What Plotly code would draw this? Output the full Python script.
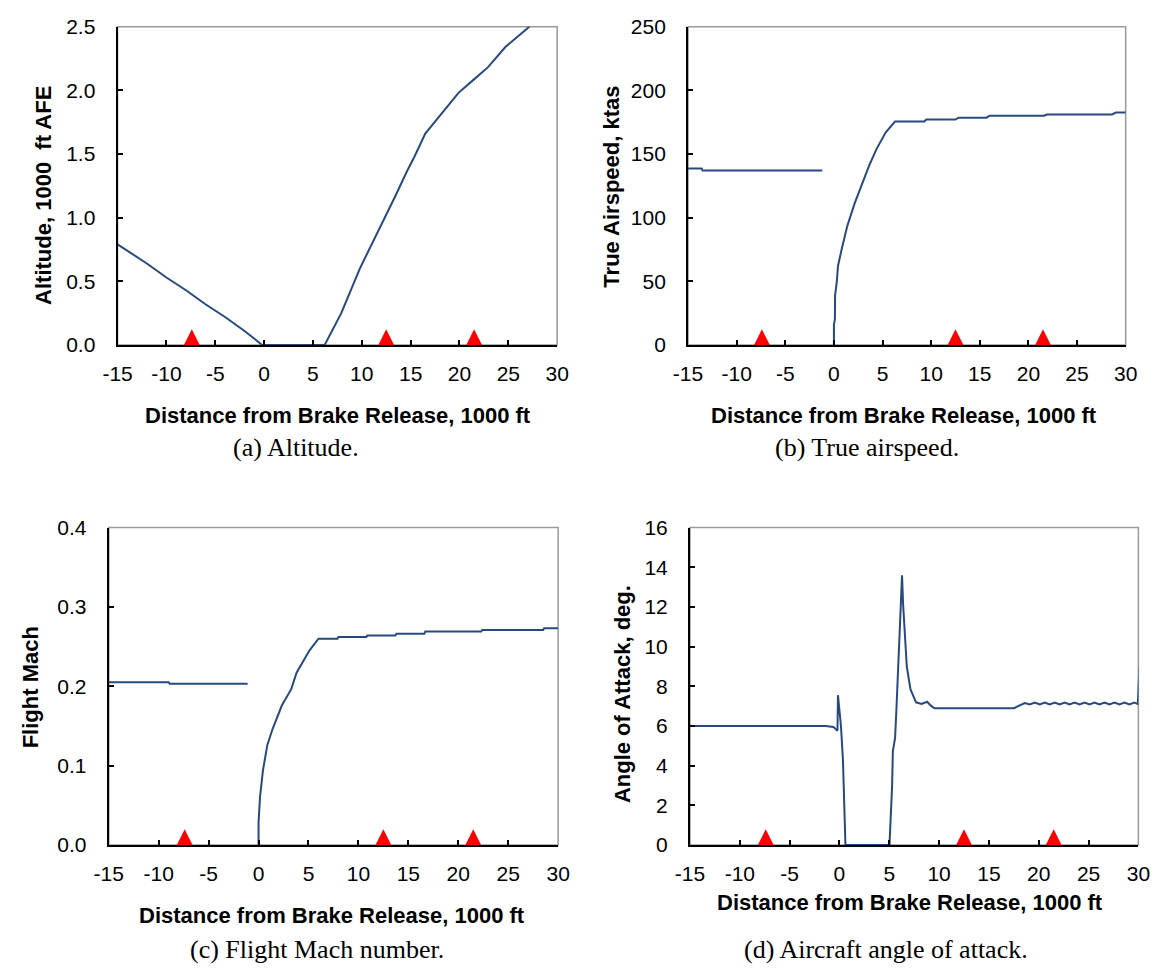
import plotly.graph_objects as go

W, H = 1166, 976

# ---------------- data ----------------
x_tickvals = [-15, -10, -5, 0, 5, 10, 15, 20, 25, 30]
x_ticktext = ["-15", "-10", "-5", "0", "5", "10", "15", "20", "25", "30"]

event_x = [-7.4, 12.5, 21.5]
event_y = [0, 0, 0]

# (a) Altitude, 1000 ft AFE
alt_x = [-15, -14, -12, -10, -8, -6, -4, -2, -0.2, 6.2, 7.9, 9.8, 11.6, 12.4, 13.5,
         14.6, 15.4, 16.5, 18.0, 19.9, 21.4, 22.9, 24.7, 27.0, 28.0]
alt_y = [0.79, 0.74, 0.64, 0.53, 0.43, 0.32, 0.22, 0.11, 0.0, 0.0, 0.25, 0.60, 0.88, 1.00, 1.18,
         1.36, 1.48, 1.66, 1.80, 1.98, 2.08, 2.18, 2.34, 2.49, 2.57]
alt_yticks = [0, 0.5, 1.0, 1.5, 2.0, 2.5]
alt_yticktext = ["0.0", "0.5", "1.0", "1.5", "2.0", "2.5"]

# (b) True airspeed, ktas
tas_x = [-15, -13.6, -13.5, -1.2, None,
         0.0, 0.0, 0.1, 0.12, 0.3, 0.42, 0.79, 1.36, 2.12, 2.88, 3.63, 4.39, 5.33, 6.28,
         9.3, 9.5, 12.5, 12.8, 15.7, 16.0, 21.6, 21.9, 28.6, 29.0, 30.0]
tas_y = [138.5, 138.5, 137, 137, None,
         0, 16, 20, 39, 50, 62, 75, 93, 111, 126, 141, 154, 167, 175.5,
         175.5, 177, 177, 178.5, 178.5, 180, 180, 181, 181, 182.5, 182.5]
tas_yticks = [0, 50, 100, 150, 200, 250]
tas_yticktext = ["0", "50", "100", "150", "200", "250"]

# (c) Flight Mach
mach_x = [-15, -9.0, -8.9, -1.1, None,
          0.0, 0.0, 0.15, 0.44, 0.88, 1.43, 2.34, 3.26, 3.81, 5.09, 6.0,
          7.9, 8.0, 10.8, 10.9, 13.7, 13.8, 16.6, 16.7, 22.3, 22.4, 28.5, 28.6, 30.0]
mach_y = [0.205, 0.205, 0.203, 0.203, None,
          0.0, 0.028, 0.061, 0.094, 0.126, 0.147, 0.176, 0.196, 0.217, 0.245, 0.260,
          0.260, 0.262, 0.262, 0.264, 0.264, 0.266, 0.266, 0.269, 0.269, 0.271, 0.271, 0.273, 0.273]
mach_yticks = [0, 0.1, 0.2, 0.3, 0.4]
mach_yticktext = ["0.0", "0.1", "0.2", "0.3", "0.4"]

# (d) Angle of attack, deg
aoa_x = [-15, -1.4, -0.6, -0.2, -0.15, 0.0, 0.15, 0.35, 0.5, 0.6,
         5.02, 5.13, 5.28, 5.36, 5.58, 5.72, 5.87, 6.02, 6.17, 6.28, 6.39, 6.58, 6.76,
         7.13, 7.69, 8.24, 8.8, 9.17, 9.54, 17.5, 18.0, 18.6,
         19.1, 19.6, 20.1, 20.6, 21.1, 21.6, 22.1, 22.6, 23.1, 23.6, 24.1, 24.6,
         25.1, 25.6, 26.1, 26.6, 27.1, 27.6, 28.1, 28.6, 29.1, 29.6, 29.95, 30.1]
aoa_y = [6.0, 6.0, 5.95, 5.75, 7.55, 6.9, 6.0, 4.3, 2.0, 0.0,
         0.0, 1.12, 2.92, 4.73, 5.38, 6.86, 8.5, 10.14, 11.78, 13.59, 12.1, 10.63, 8.99,
         7.84, 7.19, 7.11, 7.22, 7.02, 6.89, 6.89, 7.0, 7.15,
         7.08, 7.18, 7.08, 7.18, 7.08, 7.18, 7.08, 7.18, 7.08, 7.18, 7.08, 7.18,
         7.08, 7.18, 7.08, 7.18, 7.08, 7.18, 7.08, 7.18, 7.08, 7.18, 7.1, 9.0]
aoa_yticks = [0, 2, 4, 6, 8, 10, 12, 14, 16]
aoa_yticktext = ["0", "2", "4", "6", "8", "10", "12", "14", "16"]

x_title = "Distance from Brake Release, 1000 ft"

# ---------------- layout (pixel boxes) ----------------
panels = [
    dict(x=alt_x, y=alt_y, yr=[0, 2.5], yt=alt_yticks, ytt=alt_yticktext,
         box=(105, 555, 15, 341), ytitle="Altitude, 1000\u00a0 ft AFE", ytpos=(29, 188),
         xtpos=(331, 413), cap="(a) Altitude.", cappos=(288, 446)),
    dict(x=tas_x, y=tas_y, yr=[0, 250], yt=tas_yticks, ytt=tas_yticktext,
         box=(689, 1137, 15, 341), ytitle="True Airspeed, ktas", ytpos=(611, 179),
         xtpos=(910, 413), cap="(b) True airspeed.", cappos=(872, 446)),
    dict(x=mach_x, y=mach_y, yr=[0, 0.4], yt=mach_yticks, ytt=mach_yticktext,
         box=(96, 556, 528, 853), ytitle="Flight Mach", ytpos=(16, 692),
         xtpos=(325, 925), cap="(c) Flight Mach number.", cappos=(309, 960)),
    dict(x=aoa_x, y=aoa_y, yr=[0, 16], yt=aoa_yticks, ytt=aoa_yticktext,
         box=(691, 1150, 528, 853), ytitle="Angle of Attack, deg.", ytpos=(622, 699),
         xtpos=(916, 912), cap="(d) Aircraft angle of attack.", cappos=(892, 960)),
]

LINE_COLOR = "#264a80"
TICK_FONT = dict(family="Liberation Sans, Arial, sans-serif", size=21, color="#000000")
TITLE_FONT = dict(family="Liberation Sans, Arial, sans-serif", size=22, color="#000000")
CAP_FONT = dict(family="Liberation Serif, Times New Roman, serif", size=26, color="#000000")
TIP_PX = 16

fig = go.Figure()
layout = dict(width=W, height=H, margin=dict(l=0, r=0, t=0, b=0),
              paper_bgcolor="white", plot_bgcolor="white", showlegend=False,
              shapes=[], annotations=[])

for i, p in enumerate(panels, start=1):
    x0, x1, y0, y1 = p["box"]
    xd = [x0 / W, x1 / W]
    yd = [1 - y1 / H, 1 - y0 / H]
    xa = "x" if i == 1 else f"x{i}"
    ya = "y" if i == 1 else f"y{i}"
    ym = f"y{i + 4}"
    xkey = "xaxis" if i == 1 else f"xaxis{i}"
    ykey = "yaxis" if i == 1 else f"yaxis{i}"
    mkey = f"yaxis{i + 4}"
    layout[xkey] = dict(domain=xd, anchor=ya, range=[-15, 30], tickvals=x_tickvals,
                        ticktext=x_ticktext, ticks="inside", ticklen=5, tickwidth=1.5,
                        tickcolor="black", showline=True, linecolor="black", linewidth=2,
                        showgrid=False, zeroline=False, tickfont=TICK_FONT,
                        ticklabelstandoff=9)
    layout[ykey] = dict(domain=yd, anchor=xa, range=p["yr"], tickvals=p["yt"],
                        ticktext=p["ytt"], ticks="inside", ticklen=5, tickwidth=1.5,
                        tickcolor="black", showline=True, linecolor="black", linewidth=2,
                        showgrid=False, zeroline=False, tickfont=TICK_FONT,
                        ticklabelstandoff=16)
    h = y1 - y0
    layout[mkey] = dict(overlaying=ya, anchor=xa, visible=False,
                        range=[-TIP_PX / (h - TIP_PX), 1])
    # gray frame (top/right visible)
    layout["shapes"].append(dict(type="rect", xref=f"{xa} domain", yref=f"{ya} domain",
                                 x0=0, x1=1, y0=0, y1=1, layer="below",
                                 line=dict(color="#9a9a9a", width=1.5)))
    fig.add_trace(go.Scatter(x=p["x"], y=p["y"], xaxis=xa, yaxis=ya, mode="lines",
                             line=dict(color=LINE_COLOR, width=2), connectgaps=False,
                             hoverinfo="skip"))
    fig.add_trace(go.Scatter(x=event_x, y=event_y, xaxis=xa, yaxis=ym, mode="markers",
                             marker=dict(symbol="arrow-up", size=16, color="#ff0000",
                                         line=dict(width=0)),
                             cliponaxis=False, hoverinfo="skip"))
    layout["annotations"].append(dict(text=f"<b>{p['ytitle']}</b>", xref="paper", yref="paper",
                                      x=p["ytpos"][0] / W, y=1 - p["ytpos"][1] / H,
                                      xanchor="center", yanchor="middle", textangle=-90,
                                      showarrow=False, font=TITLE_FONT))
    layout["annotations"].append(dict(text=f"<b>{x_title}</b>", xref="paper", yref="paper",
                                      x=p["xtpos"][0] / W, y=1 - p["xtpos"][1] / H,
                                      xanchor="center", yanchor="middle",
                                      showarrow=False, font=TITLE_FONT))
    layout["annotations"].append(dict(text=p["cap"], xref="paper", yref="paper",
                                      x=p["cappos"][0] / W, y=1 - p["cappos"][1] / H,
                                      xanchor="center", yanchor="middle",
                                      showarrow=False, font=CAP_FONT))

fig.update_layout(**layout)
fig.write_html("out.html", config={"displayModeBar": False},
               post_script="document.body.style.margin='0';document.body.style.overflow='hidden';")
